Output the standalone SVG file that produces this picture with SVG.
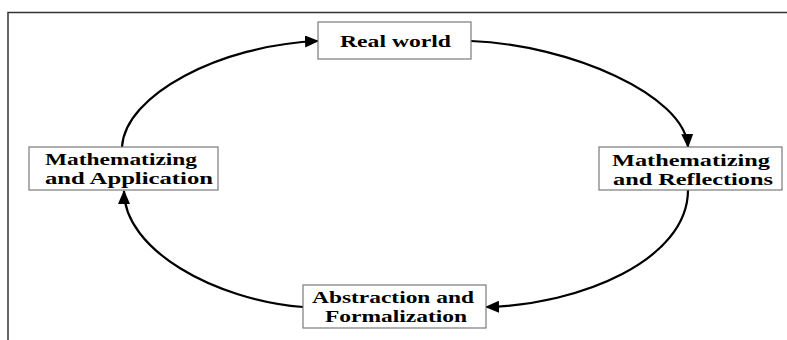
<svg xmlns="http://www.w3.org/2000/svg" width="787" height="340" viewBox="0 0 787 340">
<style>
.box{fill:#fff;stroke:#7a7a7a;stroke-width:1.2}
.t{font-family:"Liberation Serif","Times New Roman",serif;font-weight:bold;font-size:17px;fill:#000}
.c{fill:none;stroke:#000;stroke-width:2.2;marker-end:url(#ah)}
.frame{stroke:#333;stroke-width:1.5;fill:none}
</style>
<defs>
<marker id="ah" markerUnits="userSpaceOnUse" markerWidth="14" markerHeight="12" viewBox="0 0 14 12" refX="13" refY="6" orient="auto">
<path d="M0,0 L14,6 L0,12 Z" fill="#000"/>
</marker>
</defs>
<rect width="787" height="340" fill="#fff"/>
<path class="frame" d="M8,340 L8,12.5 L787,12.5"/>
<g id="connectors">
<path class="c" d="M122,147 C125,95 220,45 318,41"/>
<path class="c" d="M471,41 C570,45 685,95 688,147"/>
<path class="c" d="M688,190 C688,260 580,305 486,307"/>
<path class="c" d="M303,307 C215,300 124,250 124,191"/>
</g>
<g id="real-world">
<rect class="box" x="318" y="22" width="153" height="37"/>
<text class="t" x="340" y="47" textLength="111" lengthAdjust="spacingAndGlyphs">Real world</text>
</g>
<g id="mathematizing-application">
<rect class="box" x="29" y="147" width="189" height="43"/>
<text class="t" x="45" y="165" textLength="152" lengthAdjust="spacingAndGlyphs">Mathematizing</text>
<text class="t" x="45" y="184" textLength="168" lengthAdjust="spacingAndGlyphs">and Application</text>
</g>
<g id="mathematizing-reflections">
<rect class="box" x="599" y="147" width="183" height="43"/>
<text class="t" x="612" y="166" textLength="158" lengthAdjust="spacingAndGlyphs">Mathematizing</text>
<text class="t" x="613" y="185" textLength="160" lengthAdjust="spacingAndGlyphs">and Reflections</text>
</g>
<g id="abstraction-formalization">
<rect class="box" x="303" y="285" width="183" height="43"/>
<text class="t" x="312" y="303" textLength="162" lengthAdjust="spacingAndGlyphs">Abstraction and</text>
<text class="t" x="325" y="322" textLength="142" lengthAdjust="spacingAndGlyphs">Formalization</text>
</g>
</svg>
